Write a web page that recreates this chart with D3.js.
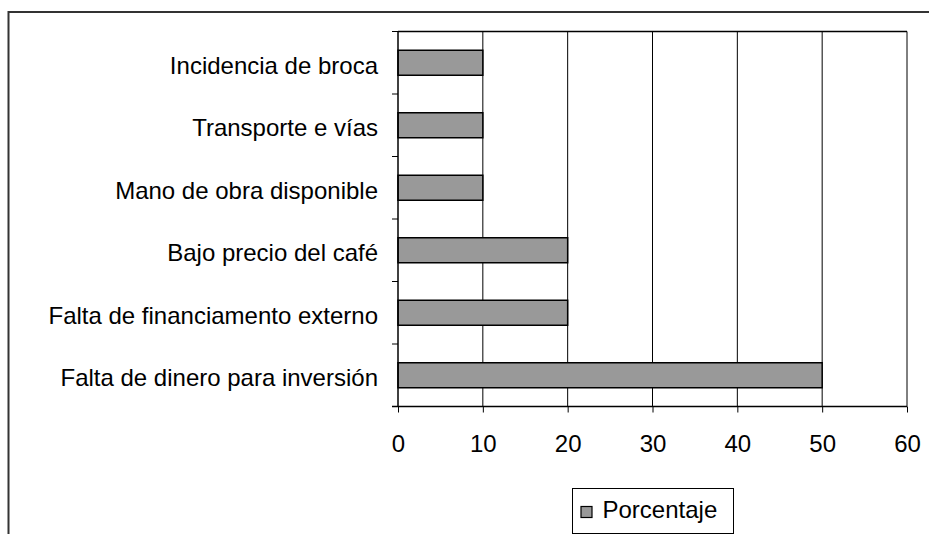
<!DOCTYPE html>
<html>
<head>
<meta charset="utf-8">
<script src="https://cdn.jsdelivr.net/npm/d3@7"></script>
<style>
body { margin: 0; background: #fff; }
text { font-family: "Liberation Sans", Arial, sans-serif; fill: #000; }
</style>
</head>
<body>
<svg id="chart" width="929" height="534"></svg>
<script>
// categories from top to bottom
var categories = [
	"Incidencia de broca",
	"Transporte e vías",
	"Mano de obra disponible",
	"Bajo precio del café",
	"Falta de financiamento externo",
	"Falta de dinero para inversión"
];
var values = [10, 10, 10, 20, 20, 50];
var xTicks = [0, 10, 20, 30, 40, 50, 60];
var seriesName = "Porcentaje";

var svg = d3.select("#chart");

// outer chart frame (runs off the right and bottom edges)
svg.append("rect")
	.attr("x", 8.5).attr("y", 12)
	.attr("width", 940).attr("height", 540)
	.attr("fill", "#fff")
	.attr("stroke", "#333").attr("stroke-width", 2);

var plot = { left: 398, top: 31.5, right: 907, bottom: 406.5 };

var x = d3.scaleLinear().domain([0, 60]).range([plot.left, plot.right]);
var y = d3.scaleBand().domain(categories).range([plot.top, plot.bottom]).paddingInner(0.6).paddingOuter(0.3);

// gridlines
svg.append("g").selectAll("line")
	.data(xTicks.slice(1))
	.join("line")
	.attr("x1", function(d) { return x(d); })
	.attr("x2", function(d) { return x(d); })
	.attr("y1", plot.top).attr("y2", plot.bottom)
	.attr("stroke", "#000").attr("stroke-width", 1);

// top border of plot
svg.append("line")
	.attr("x1", plot.left).attr("x2", plot.right)
	.attr("y1", plot.top).attr("y2", plot.top)
	.attr("stroke", "#000").attr("stroke-width", 1.5);

// bars
svg.append("g").selectAll("rect")
	.data(values)
	.join("rect")
	.attr("x", x(0))
	.attr("y", function(d, i) { return y(categories[i]); })
	.attr("width", function(d) { return x(d) - x(0); })
	.attr("height", y.bandwidth())
	.attr("fill", "#999999")
	.attr("stroke", "#000").attr("stroke-width", 1.5);

// x axis
var xAxis = d3.axisBottom(x).tickValues(xTicks).tickSize(6).tickPadding(22);
var gx = svg.append("g")
	.attr("transform", "translate(0," + plot.bottom + ")")
	.call(xAxis);
gx.select(".domain").attr("stroke", "#000").attr("stroke-width", 1.5).attr("d", "M" + (plot.left - 6) + ",0H" + plot.right);
gx.selectAll(".tick line").attr("stroke", "#000");
gx.selectAll(".tick text").style("font-size", "24px").attr("fill", "#000");

// y axis: ticks sit between categories
var step = (plot.bottom - plot.top) / categories.length;
var gy = svg.append("g");
gy.append("line")
	.attr("x1", plot.left).attr("x2", plot.left)
	.attr("y1", plot.top).attr("y2", plot.bottom)
	.attr("stroke", "#000").attr("stroke-width", 1.5);
gy.selectAll(".sep")
	.data(d3.range(categories.length))
	.join("line")
	.attr("class", "sep")
	.attr("x1", plot.left - 6).attr("x2", plot.left)
	.attr("y1", function(i) { return plot.top + step * i; })
	.attr("y2", function(i) { return plot.top + step * i; })
	.attr("stroke", "#000");
gy.selectAll("text")
	.data(categories)
	.join("text")
	.attr("x", plot.left - 20)
	.attr("y", function(d) { return y(d) + y.bandwidth() / 2; })
	.attr("dy", "0.45em")
	.attr("text-anchor", "end")
	.style("font-size", "24px")
	.text(function(d) { return d; });

// legend
var lg = svg.append("g").attr("transform", "translate(572.5,488.5)");
lg.append("rect")
	.attr("width", 161).attr("height", 45)
	.attr("fill", "#fff").attr("stroke", "#000");
lg.append("rect")
	.attr("x", 8.5).attr("y", 18).attr("width", 11).attr("height", 11)
	.attr("fill", "#999999").attr("stroke", "#000").attr("stroke-width", 1.2);
lg.append("text")
	.attr("x", 30).attr("y", 29)
	.style("font-size", "24px")
	.text(seriesName);
</script>
</body>
</html>
